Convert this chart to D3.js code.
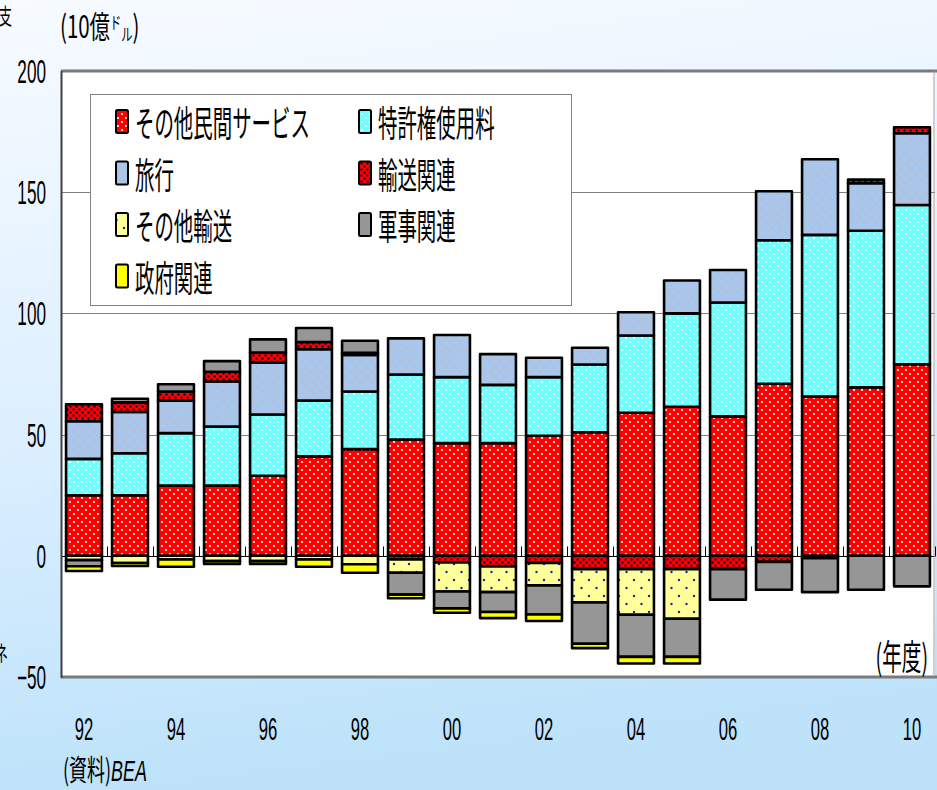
<!DOCTYPE html>
<html>
<head>
<meta charset="utf-8">
<script src="https://cdn.jsdelivr.net/npm/d3@7"></script>
<style>
  html, body { margin: 0; padding: 0; background: #fff; }
  svg { display: block; }
</style>
</head>
<body>
<svg id="chart" width="937" height="790"></svg>
<script>
// data (10億ドル), fiscal years 1992-2010
var years = [1992, 1993, 1994, 1995, 1996, 1997, 1998, 1999, 2000, 2001,
             2002, 2003, 2004, 2005, 2006, 2007, 2008, 2009, 2010];
var otherPrivate   = [25, 25, 29, 29, 33, 41, 44, 48, 46.5, 46.5, 49.5, 51, 59, 61.5, 57.5, 71, 65.7, 69.5, 79];
var royalties      = [15, 17.3, 21.6, 24.3, 25.3, 23, 23.8, 26.8, 27.2, 24, 24.2, 27.9, 31.9, 38.5, 47, 59.2, 66.7, 64.6, 65.7];
var travel         = [15.5, 17, 13.4, 18.6, 21.5, 21.2, 15.1, 14.9, 17.4, 12.7, 8, 6.9, 9.6, 13.6, 13.4, 20.2, 31.2, 19.6, 29.6];
var transport      = [7, 4, 3.8, 4, 4, 3, 0.8, -1.5, -2.7, -4.4, -2.9, -5.5, -5.5, -5.5, -5.5, -2.5, -1, 1.5, 2.5];
var otherTransport = [-1.8, -3, -1.5, -2.2, -2.2, -1.5, -3.5, -5.5, -12, -10.6, -9.3, -13.7, -18.8, -20.5, 0, 0, 0, 0, 0];
var military       = [-2.5, 1.5, 3, 4.4, 5.5, 5.8, 5, -9, -7, -8.2, -12, -17.1, -17.4, -15.7, -12.6, -11.5, -14, -14, -12.6];
var government     = [-2, -1.2, -3, -1.2, -1.2, -3, -3.5, -1.5, -1.8, -2.5, -2.7, -1.8, -2.7, -2.7, 0, 0, 0, 0, 0];

var seriesNames = ['その他民間サービス', '特許権使用料', '旅行', '輸送関連', 'その他輸送', '軍事関連', '政府関連'];
var seriesKeys  = ['otherPrivate', 'royalties', 'travel', 'transport', 'otherTransport', 'military', 'government'];
var yTicks = [200, 150, 100, 50, 0, -50];
var xLabelYears = [1992, 1994, 1996, 1998, 2000, 2002, 2004, 2006, 2008, 2010];

var table = years.map(function(y, i) {
  return {
    year: y,
    otherPrivate: otherPrivate[i],
    royalties: royalties[i],
    travel: travel[i],
    transport: transport[i],
    otherTransport: otherTransport[i],
    military: military[i],
    government: government[i]
  };
});

var jp = '"Noto Sans CJK JP", "Noto Sans CJK SC", sans-serif';
var num = '"Liberation Sans", Arial, sans-serif';

var plot = { left: 61, right: 935, top: 71, bottom: 677 };

var svg = d3.select('#chart');
var defs = svg.append('defs');

// background
var bg = defs.append('linearGradient')
  .attr('id', 'bgGrad')
  .attr('x1', 0).attr('y1', 0).attr('x2', 0.15).attr('y2', 1);
bg.append('stop').attr('offset', '0%').attr('stop-color', '#f7fbff');
bg.append('stop').attr('offset', '55%').attr('stop-color', '#dcefff');
bg.append('stop').attr('offset', '100%').attr('stop-color', '#bde2fa');

svg.append('rect')
  .attr('width', 937).attr('height', 790)
  .attr('fill', 'url(#bgGrad)');

// fill patterns
function dotPattern(id, base, dot, w, h, pts, r) {
  var p = defs.append('pattern')
    .attr('id', id)
    .attr('patternUnits', 'userSpaceOnUse')
    .attr('width', w).attr('height', h);
  p.append('rect').attr('width', w).attr('height', h).attr('fill', base);
  pts.forEach(function(pt) {
    p.append('circle').attr('cx', pt[0]).attr('cy', pt[1]).attr('r', r).attr('fill', dot);
  });
}
dotPattern('p0', '#ff0000', '#ffffff', 8, 8, [[2, 2], [6, 6]], 1.1);
dotPattern('p1', '#70ffff', '#ffffff', 8, 8, [[2, 2], [6, 6]], 1.1);
dotPattern('p3', '#ff0000', '#1a0033', 6, 6, [[1.5, 1.5], [4.5, 4.5]], 1.2);
dotPattern('p4', '#ffff99', '#22228a', 15, 16, [[4, 4], [11.5, 12]], 1.2);

var tp = defs.append('pattern')
  .attr('id', 'p2')
  .attr('patternUnits', 'userSpaceOnUse')
  .attr('width', 14).attr('height', 14)
  .attr('patternTransform', 'rotate(45)');
tp.append('rect').attr('width', 14).attr('height', 14).attr('fill', '#a6c8f0');
tp.append('path')
  .attr('d', 'M0,0.5H14M0,7.5H14M0.5,0V7.5M7.5,7.5V14')
  .attr('stroke', '#bcbccc').attr('stroke-width', 1.2).attr('fill', 'none');

var fills = ['url(#p0)', 'url(#p1)', 'url(#p2)', 'url(#p3)', 'url(#p4)', '#969696', '#ffff00'];

// scales
var x = d3.scaleBand()
  .domain(years)
  .range([plot.left, plot.left + 46 * years.length])
  .paddingInner(0.22)
  .paddingOuter(0.11);

var y = d3.scaleLinear()
  .domain([-50, 200])
  .range([plot.bottom, plot.top]);

// text with squeezed glyphs
function label(g, px, py, str, size, sx, anchor, family) {
  return g.append('text')
    .attr('transform', 'translate(' + px + ',' + py + ') scale(' + sx + ',1)')
    .attr('font-size', size)
    .attr('font-family', family)
    .attr('text-anchor', anchor)
    .attr('fill', '#000')
    .text(str);
}

// plot area
svg.append('rect')
  .attr('x', plot.left).attr('y', plot.top)
  .attr('width', plot.right - plot.left).attr('height', plot.bottom - plot.top)
  .attr('fill', '#fff');

// grid lines
svg.append('g')
  .selectAll('line')
  .data([150, 100, 50])
  .enter()
  .append('line')
  .attr('x1', plot.left).attr('x2', plot.right)
  .attr('y1', function(d) { return Math.round(y(d)) + 0.5; })
  .attr('y2', function(d) { return Math.round(y(d)) + 0.5; })
  .attr('stroke', '#808080').attr('stroke-width', 1);

// zero axis with category ticks
var zeroY = Math.round(y(0)) + 0.5;
svg.append('line')
  .attr('x1', plot.left).attr('x2', plot.right)
  .attr('y1', zeroY).attr('y2', zeroY)
  .attr('stroke', '#000').attr('stroke-width', 1);

svg.append('g')
  .selectAll('line')
  .data(d3.range(years.length + 1))
  .enter()
  .append('line')
  .attr('x1', function(i) { return plot.left + 46 * i + 0.5; })
  .attr('x2', function(i) { return plot.left + 46 * i + 0.5; })
  .attr('y1', zeroY - 10).attr('y2', zeroY)
  .attr('stroke', '#000').attr('stroke-width', 1);

// stacked bars
var stack = d3.stack()
  .keys(seriesKeys)
  .offset(d3.stackOffsetDiverging);
var layers = stack(table);

var layer = svg.append('g')
  .selectAll('g.layer')
  .data(layers)
  .enter()
  .append('g')
  .attr('class', 'layer')
  .attr('fill', function(d, i) { return fills[i]; });

layer.selectAll('rect')
  .data(function(d) { return d.filter(function(s) { return s[0] !== s[1]; }); })
  .enter()
  .append('rect')
  .attr('x', function(d) { return x(d.data.year); })
  .attr('width', x.bandwidth())
  .attr('y', function(d) { return y(Math.max(d[0], d[1])); })
  .attr('height', function(d) { return Math.abs(y(d[0]) - y(d[1])); })
  .attr('stroke', '#000')
  .attr('stroke-width', 2.6)
  .attr('stroke-linejoin', 'round');

// frame
svg.append('line')
  .attr('x1', plot.left).attr('x2', 937)
  .attr('y1', plot.top).attr('y2', plot.top)
  .attr('stroke', '#7a7a7a').attr('stroke-width', 3);
svg.append('line')
  .attr('x1', plot.left).attr('x2', 937)
  .attr('y1', plot.bottom).attr('y2', plot.bottom)
  .attr('stroke', '#7a7a7a').attr('stroke-width', 3);
svg.append('line')
  .attr('x1', plot.left + 0.5).attr('x2', plot.left + 0.5)
  .attr('y1', plot.top).attr('y2', plot.bottom + 1)
  .attr('stroke', '#404040').attr('stroke-width', 2);
svg.append('line')
  .attr('x1', plot.right - 1).attr('x2', plot.right - 1)
  .attr('y1', plot.top).attr('y2', plot.bottom)
  .attr('stroke', '#a0a0a0').attr('stroke-width', 1);

// y labels
var axisText = svg.append('g');
yTicks.forEach(function(v) {
  label(axisText, 46, y(v) + 12, v < 0 ? '\u2212' + Math.abs(v) : String(v), 33, 0.52, 'end', num);
});

// x labels
xLabelYears.forEach(function(yr) {
  var s = String(yr).slice(2);
  label(axisText, x(yr) + x.bandwidth() / 2, 740, s, 32, 0.52, 'middle', num);
});

// legend
var legend = svg.append('g');
legend.append('rect')
  .attr('x', 90.5).attr('y', 94.5)
  .attr('width', 481).attr('height', 211)
  .attr('fill', '#fff')
  .attr('stroke', '#808080').attr('stroke-width', 1);

seriesNames.forEach(function(name, i) {
  var col = i % 2, row = Math.floor(i / 2);
  var lx = col === 0 ? 116 : 359;
  var ly = 110 + row * 51.5;
  legend.append('rect')
    .attr('x', lx).attr('y', ly)
    .attr('width', 12).attr('height', 23)
    .attr('rx', 1.5)
    .attr('fill', fills[i])
    .attr('stroke', '#000').attr('stroke-width', 2);
  label(legend, lx + 19, ly + 27, name, 36, 0.54, 'start', jp);
});

// titles / notes
var unit = svg.append('text')
  .attr('transform', 'translate(60,38) scale(0.66,1)')
  .attr('font-family', jp)
  .attr('font-size', 31)
  .attr('fill', '#000');
unit.append('tspan').text('(10億');
unit.append('tspan').attr('font-size', 17).attr('dy', -9).text('ド');
unit.append('tspan').attr('font-size', 17).attr('dy', 12).text('ル');
unit.append('tspan').attr('font-size', 31).attr('dy', -3).text(')');

label(svg, 12, 24, '収支', 22, 0.6, 'end', jp);
label(svg, 8, 661, 'ネ', 22, 0.6, 'end', jp);
label(svg, 928, 670, '(年度)', 35, 0.56, 'end', jp);

var src = svg.append('text')
  .attr('transform', 'translate(63,781) scale(0.62,1)')
  .attr('font-size', 29)
  .attr('fill', '#000');
src.append('tspan').attr('font-family', jp).text('(資料)');
src.append('tspan').attr('font-family', num).attr('font-style', 'italic').text('BEA');
</script>
</body>
</html>
